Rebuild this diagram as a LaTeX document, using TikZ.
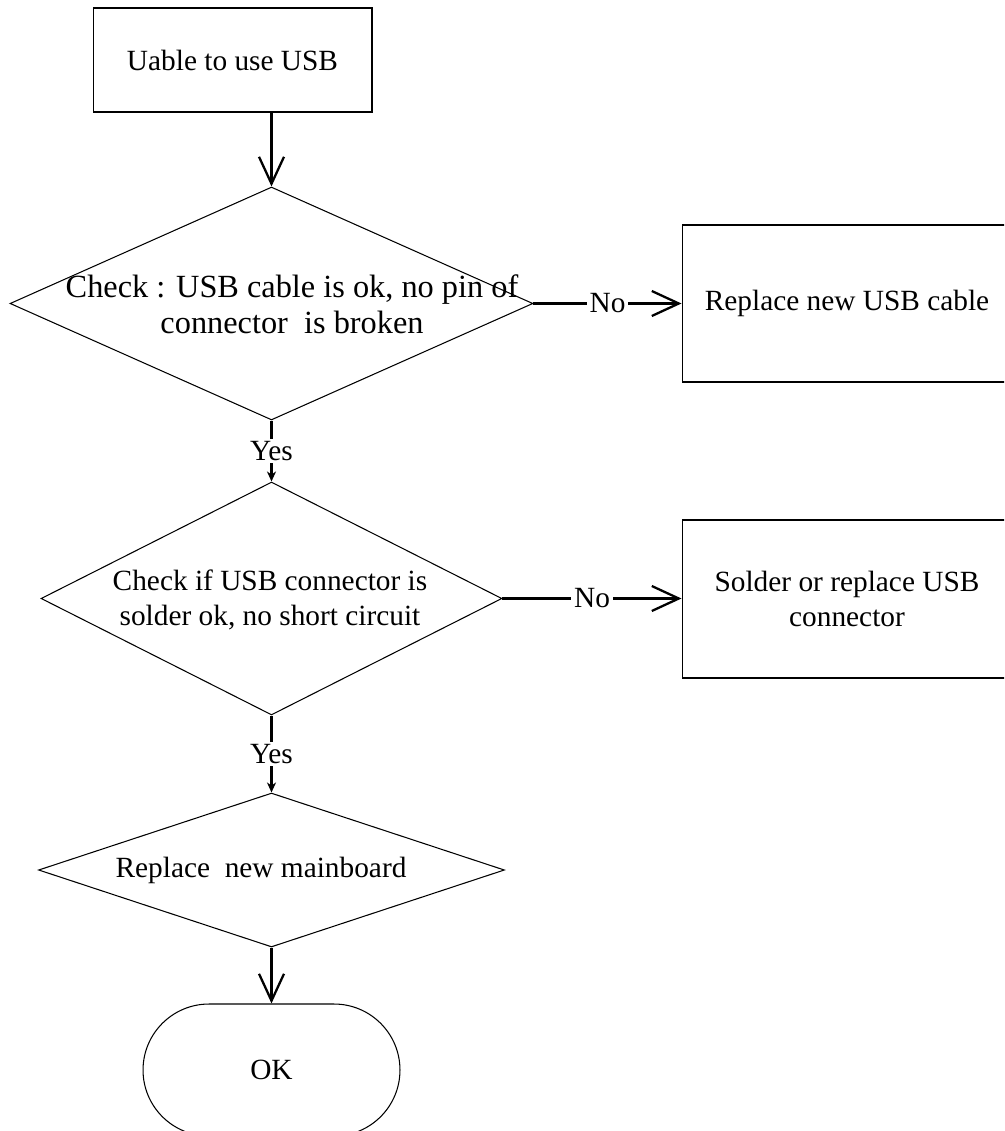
\documentclass[tikz,border=0pt]{standalone}
\usepackage{fontspec}
\setmainfont{Liberation Serif}
\usetikzlibrary{shapes.geometric,arrows.meta}

\begin{document}
\begin{tikzpicture}[x=0.02cm,y=-0.02cm,font=\fontsize{16.7}{19.5}\selectfont,
      box/.style={rectangle, draw=black, line width=0.6pt},
      decision/.style={diamond, draw=black, line width=0.6pt, inner sep=0pt},
      flow/.style={line width=1.3pt, -{Straight Barb[length=5.4mm,width=5mm,line width=1.3pt]}},
      yesflow/.style={line width=1.3pt, -{Stealth[length=2mm,width=1.8mm,inset=0.6mm]}},
      lbl/.style={fill=white, inner sep=1.5pt}]

   %   \draw[help lines] (0, 0) grid[step=100] (1004, 1131);
      \clip (0, 0) rectangle (1004, 1131);

      \node [box, minimum width=5.58cm, minimum height=2.08cm] (start) at (232.5, 60) {Uable to use USB};

      \node [decision, minimum width=10.46cm, minimum height=4.66cm] (d1) at (271.5, 303.5) {};
      \node [align=center, font=\fontsize{18.4}{20.5}\selectfont] (d1text) at (292, 304) {Check : USB cable is ok, no pin of\\connector\ \ is broken};

      \node [box, minimum width=6.6cm, minimum height=3.14cm] (fix1) at (847, 303.5) {Replace new USB cable};

      \node [decision, minimum width=9.22cm, minimum height=4.66cm] (d2) at (271.5, 598.5) {};
      \node [align=center] (d2text) at (270, 600) {Check if USB connector is\\solder ok, no short circuit};

      \node [box, minimum width=6.6cm, minimum height=3.16cm, align=center] (fix2) at (847, 599) {Solder or replace USB\\connector};

      \node [decision, minimum width=9.32cm, minimum height=3.08cm] (d3) at (271.5, 870) {};
      \node (d3text) at (261, 870) {Replace\ \ new mainboard};

      \node [box, rounded corners=1.32cm, minimum width=5.14cm, minimum height=2.64cm] (ok) at (271.5, 1070) {OK};

      \draw [flow] (start.south -| d1.north) -- (d1.north);
      \draw [flow] (d1.east) -- node [lbl] (no1) {No} (fix1.west);
      \draw [yesflow] (d1.south) -- node [lbl] (yes1) {Yes} (d2.north);
      \draw [flow] (d2.east) -- node [lbl] (no2) {No} (d2.east -| fix2.west);
      \draw [yesflow] (d2.south) -- node [lbl] (yes2) {Yes} (d3.north);
      \draw [flow] (d3.south) -- (ok.north);

    \end{tikzpicture}
\end{document}
